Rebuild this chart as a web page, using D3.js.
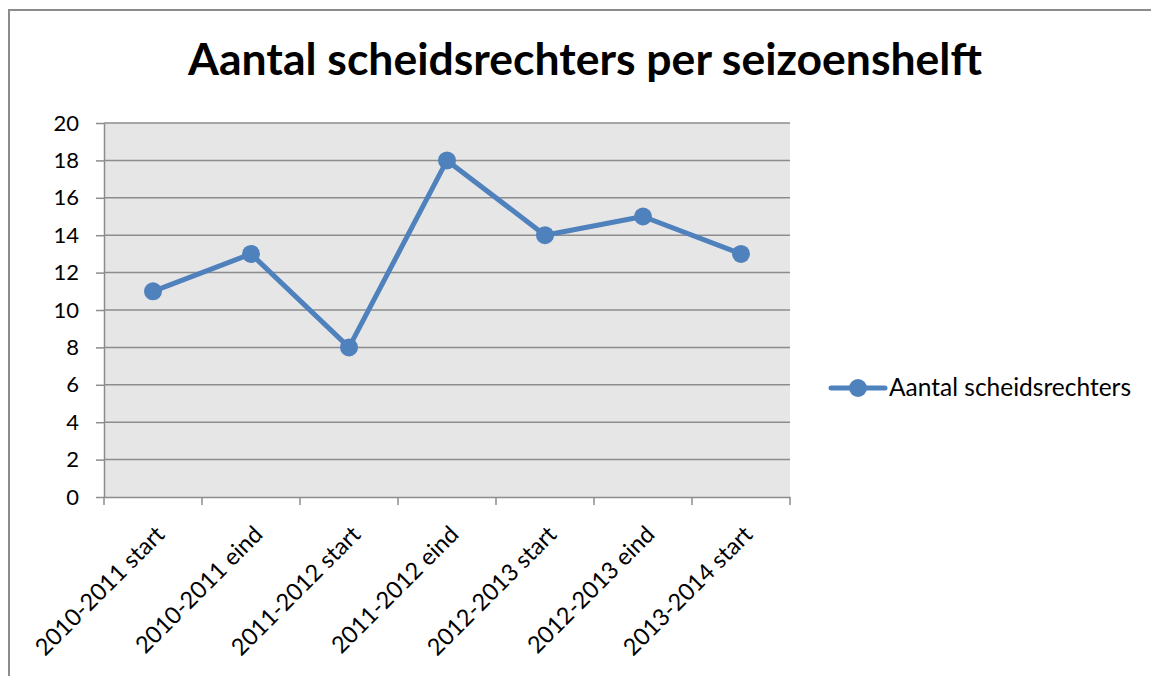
<!DOCTYPE html>
<html>
<head>
<meta charset="utf-8">
<script src="https://cdn.jsdelivr.net/npm/d3@7"></script>
<style>
  body { margin: 0; background: #fff; }
  svg { display: block; font-family: Lato, "Open Sans", sans-serif; }
</style>
</head>
<body>
<svg id="chart" width="1151" height="676"></svg>
<script>
// chart data
const categories = ["2010-2011 start", "2010-2011 eind", "2011-2012 start", "2011-2012 eind",
  "2012-2013 start", "2012-2013 eind", "2013-2014 start"];
const values = [11, 13, 8, 18, 14, 15, 13];
const yTicks = [0, 2, 4, 6, 8, 10, 12, 14, 16, 18, 20];
const seriesName = "Aantal scheidsrechters";
const title = "Aantal scheidsrechters per seizoenshelft";

const svg = d3.select("#chart");
const margins = {top: 123, left: 104, right: 361, bottom: 179};
const width = 1151, height = 676;
const blue = "#4f81bd";

// outer chart border (left + top only visible)
svg.append("path")
  .attr("d", "M9,676 V10 H1151")
  .attr("fill", "none")
  .attr("stroke", "#8c8c8c")
  .attr("stroke-width", 2);

svg.append("text")
  .attr("x", 585).attr("y", 75)
  .attr("text-anchor", "middle")
  .attr("font-size", 44.5)
  .attr("font-weight", "bold")
  .text(title);

const x = d3.scaleBand()
  .domain(categories)
  .range([margins.left, width - margins.right]);
const y = d3.scaleLinear()
  .domain([0, 20])
  .range([height - margins.bottom, margins.top]);

// plot area
svg.append("rect")
  .attr("x", margins.left).attr("y", margins.top)
  .attr("width", width - margins.right - margins.left)
  .attr("height", height - margins.bottom - margins.top)
  .attr("fill", "#e6e6e6");

// gridlines
svg.append("g")
  .selectAll("line")
  .data(yTicks.filter(d => d > 0))
  .join("line")
  .attr("x1", margins.left).attr("x2", width - margins.right)
  .attr("y1", d => y(d)).attr("y2", d => y(d))
  .attr("stroke", "#8c8c8c").attr("stroke-width", 1.5);

// y axis
const yAxis = svg.append("g")
  .attr("transform", "translate(" + margins.left + ",0)")
  .call(d3.axisLeft(y).tickValues(yTicks).tickSize(8).tickPadding(17).tickSizeOuter(0));
yAxis.select(".domain").attr("stroke", "#8c8c8c").attr("stroke-width", 1.5);
yAxis.selectAll(".tick line").attr("stroke", "#8c8c8c").attr("stroke-width", 1.5);
yAxis.selectAll("text").attr("font-size", 22).attr("fill", "#000")
  .attr("font-family", "Lato, sans-serif");

// x axis
const xAxis = svg.append("g")
  .attr("transform", "translate(0," + (height - margins.bottom) + ")")
  .call(d3.axisBottom(x).tickSize(0).tickSizeOuter(0));
xAxis.select(".domain").attr("stroke", "#8c8c8c").attr("stroke-width", 1.5);
// tick marks at category boundaries
xAxis.selectAll(".bound")
  .data(d3.range(categories.length + 1))
  .join("line")
  .attr("class", "bound")
  .attr("x1", i => margins.left + i * x.step())
  .attr("x2", i => margins.left + i * x.step())
  .attr("y1", 0).attr("y2", 8)
  .attr("stroke", "#8c8c8c").attr("stroke-width", 1.5);
xAxis.selectAll(".tick text")
  .attr("font-size", 23.5).attr("fill", "#000")
  .attr("font-family", "Lato, sans-serif")
  .attr("text-anchor", "end")
  .attr("x", 0).attr("y", 0)
  .attr("dy", null)
  .attr("transform", "translate(13,39) rotate(-45)");

// series line
const line = d3.line()
  .x((d, i) => x(categories[i]) + x.bandwidth() / 2)
  .y(d => y(d));

svg.append("path")
  .datum(values)
  .attr("d", line)
  .attr("fill", "none")
  .attr("stroke", blue)
  .attr("stroke-width", 5)
  .attr("stroke-linejoin", "round");

svg.append("g")
  .selectAll("circle")
  .data(values)
  .join("circle")
  .attr("cx", (d, i) => x(categories[i]) + x.bandwidth() / 2)
  .attr("cy", d => y(d))
  .attr("r", 9)
  .attr("fill", blue);

// legend
const legend = svg.append("g").attr("transform", "translate(831,388)");
legend.append("line")
  .attr("x1", 0).attr("x2", 54)
  .attr("stroke", blue).attr("stroke-width", 5).attr("stroke-linecap", "round");
legend.append("circle").attr("cx", 27).attr("r", 9).attr("fill", blue);
legend.append("text")
  .attr("x", 58).attr("y", 8)
  .attr("font-size", 24.5)
  .text(seriesName);
</script>
</body>
</html>
